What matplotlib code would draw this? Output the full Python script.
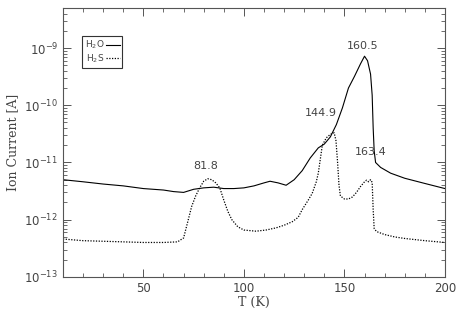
import matplotlib
matplotlib.use('Agg')
import matplotlib.pyplot as plt
from matplotlib.ticker import LogLocator, MultipleLocator, NullFormatter, FixedLocator

# ---- data ----
T_h2o = [10, 20, 30, 40, 50, 60, 65, 70, 75, 80, 85, 90, 95, 100, 105, 110, 113, 117,
         121, 125, 129, 133, 137, 140, 143, 146, 149, 152, 155, 158, 160, 161.5, 163,
         163.8, 164.3, 164.8, 165.5, 168, 173, 180, 190, 200]
I_h2o = [5.0e-12, 4.6e-12, 4.2e-12, 3.9e-12, 3.5e-12, 3.3e-12, 3.1e-12, 3.0e-12,
         3.4e-12, 3.6e-12, 3.7e-12, 3.5e-12, 3.5e-12, 3.6e-12, 3.9e-12, 4.4e-12,
         4.7e-12, 4.4e-12, 4.0e-12, 5.0e-12, 7.2e-12, 1.2e-11, 1.8e-11, 2.1e-11,
         2.8e-11, 4.6e-11, 9.0e-11, 2.0e-10, 3.2e-10, 5.3e-10, 7.2e-10, 6.0e-10,
         3.5e-10, 1.5e-10, 4.0e-11, 1.6e-11, 1.0e-11, 8.2e-12, 6.5e-12, 5.3e-12,
         4.3e-12, 3.5e-12]

T_h2s = [10, 20, 30, 40, 50, 60, 67, 70, 72, 74, 76, 78, 80, 82, 84, 86, 88, 90, 92,
         94, 97, 100, 106, 111, 116, 120, 124, 127, 129, 132, 134, 136, 137, 139, 141,
         143, 144.9, 145.8, 146.6, 147.3, 148, 150, 152, 154, 156, 158, 160, 161, 162,
         163, 163.8, 164.3, 164.8, 166, 170, 175, 180, 190, 200]
I_h2s = [4.6e-13, 4.3e-13, 4.2e-13, 4.1e-13, 4.0e-13, 4.0e-13, 4.1e-13, 4.8e-13,
         9.0e-13, 1.7e-12, 2.6e-12, 3.6e-12, 4.7e-12, 5.2e-12, 5.0e-12, 4.4e-12,
         3.6e-12, 2.2e-12, 1.4e-12, 1.0e-12, 7.5e-13, 6.6e-13, 6.3e-13, 6.6e-13,
         7.2e-13, 8.0e-13, 9.2e-13, 1.1e-12, 1.5e-12, 2.2e-12, 2.9e-12, 4.6e-12,
         6.5e-12, 2.0e-11, 2.7e-11, 3.1e-11, 3.3e-11, 2.4e-11, 1.0e-11, 4.0e-12,
         2.6e-12, 2.3e-12, 2.3e-12, 2.5e-12, 3.0e-12, 3.8e-12, 4.6e-12, 4.9e-12,
         4.6e-12, 5.0e-12, 4.5e-12, 1.5e-12, 7.0e-13, 6.2e-13, 5.5e-13, 5.0e-13,
         4.7e-13, 4.3e-13, 4.0e-13]

peak_labels = ['81.8', '144.9', '160.5', '163.4']
peak_T = [80.8, 138.2, 159.0, 163.0]
peak_I = [7.0e-12, 5.9e-11, 9.0e-10, 1.23e-11]

y_major = [1e-13, 1e-12, 1e-11, 1e-10, 1e-9]

txt = '#444444'
ax_col = '#555555'

fig = plt.figure(figsize=(4.63, 3.22), dpi=100)
ax = fig.add_axes([0.136, 0.140, 0.825, 0.835])

ax.plot(T_h2o, I_h2o, color='black', lw=0.8, label='H$_2$O')
ax.plot(T_h2s, I_h2s, color='black', lw=0.9, linestyle=(0, (1, 1.2)), label='H$_2$S')

ax.set_yscale('log')
ax.set_xlim(10, 200)
ax.set_ylim(1e-13, 5e-9)

ax.xaxis.set_major_locator(FixedLocator([50, 100, 150, 200]))
ax.xaxis.set_minor_locator(MultipleLocator(10))
ax.yaxis.set_major_locator(FixedLocator(y_major))
ax.yaxis.set_minor_locator(LogLocator(base=10, subs=range(2, 10), numticks=20))
ax.yaxis.set_minor_formatter(NullFormatter())

ax.tick_params(which='both', direction='in', top=True, right=True, colors=ax_col,
               labelcolor=txt, labelsize=8.5)
ax.tick_params(which='major', length=6, width=0.7)
ax.tick_params(which='minor', length=3, width=0.6)
for s in ax.spines.values():
    s.set_color(ax_col)
    s.set_linewidth(0.8)

ax.set_xlabel('T (K)', family='DejaVu Serif', fontsize=9, color=txt, labelpad=1)
ax.set_ylabel('Ion Current [A]', family='DejaVu Serif', fontsize=9, color=txt, labelpad=4)

for lab, t, v in zip(peak_labels, peak_T, peak_I):
    ax.text(t, v, lab, ha='center', va='bottom', fontsize=8, color=txt)

leg = ax.legend(loc='upper left', bbox_to_anchor=(0.05, 0.895), markerfirst=False,
                fontsize=6.5, handlelength=1.5, handletextpad=0.2, borderpad=0.3,
                labelspacing=0.1, fancybox=False, framealpha=1, borderaxespad=0)
leg.get_frame().set_edgecolor('#333333')
leg.get_frame().set_linewidth(0.8)
for t in leg.get_texts():
    t.set_color(txt)

fig.savefig('out.png', dpi=100)
